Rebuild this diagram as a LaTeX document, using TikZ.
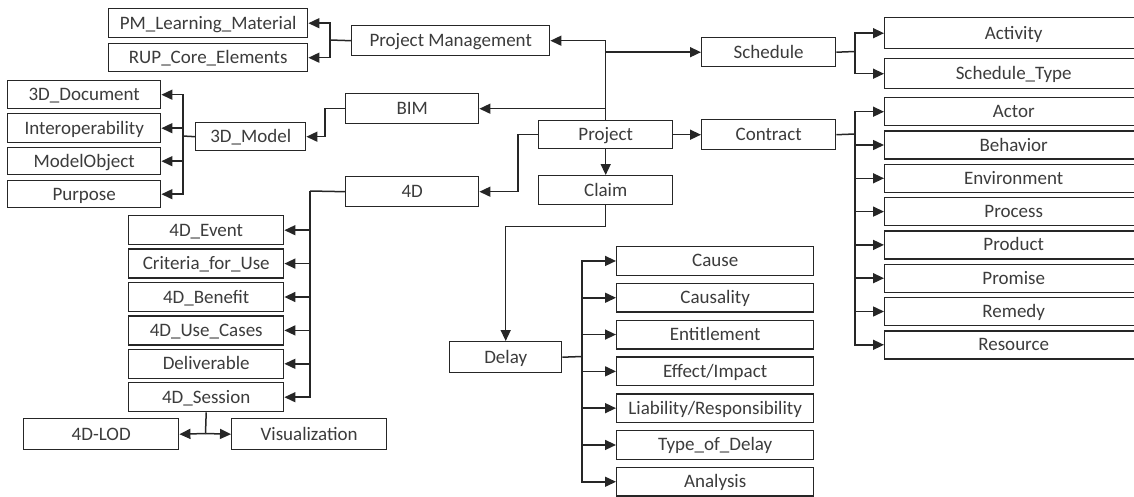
\documentclass[tikz,border=0pt]{standalone}
\usepackage{fontspec}
\setmainfont{Carlito}
\usetikzlibrary{arrows.meta}
\definecolor{linec}{HTML}{262626}
\definecolor{textc}{HTML}{3C3C3C}
\tikzset{
  box/.style={draw=linec, line width=1.4pt, fill=white, inner sep=0pt,
    anchor=north west, text=textc, text height=15pt, text depth=3pt,
    font=\fontsize{19}{19}\selectfont},
  conn/.style={draw=linec, line width=1.5pt},
  arr/.style={conn, -{Triangle[length=11pt,width=10pt]}},
}
% \cbox{name}{x1}{y1}{x2}{y2}{label}: box given by its corners
\newcommand\cbox[6]{%
  \node[box, minimum width={(#4-#2)*1pt}, minimum height={(#5-#3)*1pt}]
    (#1) at (#2,#3) {#6};}
\begin{document}
\begin{tikzpicture}[x=1pt,y=-1pt]
\useasboundingbox (0,0) rectangle (1134,496);
\clip (0,0) rectangle (1134,496);

% project management branch
\cbox{pml}{108}{8}{307}{37}{PM\_Learning\_Material}
\cbox{rup}{108}{43}{307}{71}{RUP\_Core\_Elements}
\cbox{pm}{351}{25}{549}{55}{Project Management}

% schedule branch
\cbox{sched}{701}{37}{835}{66}{Schedule}
\cbox{act}{884}{17}{1142}{48}{Activity}
\cbox{stype}{884}{58}{1142}{88}{Schedule\_Type}

% BIM / 3D model branch
\cbox{bim}{345}{93}{478}{123}{BIM}
\cbox{m3d}{195}{122}{305}{150}{3D\_Model}
\cbox{doc3d}{7}{80}{160}{108}{3D\_Document}
\cbox{interop}{7}{113}{160}{142}{Interoperability}
\cbox{mobj}{7}{147}{160}{174}{ModelObject}
\cbox{purpose}{7}{180}{160}{207}{Purpose}

% root and its direct children
\cbox{project}{538}{120}{672}{148}{Project}
\cbox{contract}{701}{119}{835}{149}{Contract}
\cbox{claim}{538}{175}{672}{204}{Claim}
\cbox{d4}{345}{176}{478}{206}{4D}

% contract parts
\foreach \n/\t [count=\i from 0] in {actor/Actor, behavior/Behavior,
    env/Environment, process/Process, product/Product, promise/Promise,
    remedy/Remedy, resource/Resource}{
  \pgfmathsetmacro\top{97+33.3*\i}
  \pgfmathsetmacro\bot{\top+28}
  \cbox{\n}{884}{\top}{1142}{\bot}{\t}
}

% 4D parts
\foreach \n/\t [count=\i from 0] in {ev4d/4D\_Event, crit/Criteria\_for\_Use,
    ben4d/4D\_Benefit, use4d/4D\_Use\_Cases, deliv/Deliverable,
    sess4d/4D\_Session}{
  \pgfmathsetmacro\top{215+33.4*\i}
  \pgfmathsetmacro\bot{\top+29}
  \cbox{\n}{128}{\top}{283}{\bot}{\t}
}
\cbox{lod}{23}{418}{178}{449}{4D-LOD}
\cbox{vis}{231}{418}{386}{449}{Visualization}

% delay branch
\cbox{delay}{449}{341}{561}{372}{Delay}
\foreach \n/\t [count=\i from 0] in {cause/Cause, causal/Causality,
    entitle/Entitlement, effect/{Effect/Impact},
    liab/{Liability/Responsibility}, tdelay/Type\_of\_Delay, analysis/Analysis}{
  \pgfmathsetmacro\top{246+36.8*\i}
  \pgfmathsetmacro\bot{\top+28.5}
  \cbox{\n}{616}{\top}{813}{\bot}{\t}
}

% connectors
\coordinate (jpm) at (330,40);
\draw[conn] (pm.west) -- (jpm);
\draw[arr] (jpm) |- (pml.east);
\draw[arr] (jpm) |- (rup.east);

\draw[arr] (project.north) |- (pm.east);
\draw[arr] (project.north) |- (sched.west);
\draw[arr] (project.north) |- (bim.east);
\draw[arr] (project.east) -- (contract.west);
\draw[arr] (project.south) -- (claim.north);
\draw[arr] (project.west) -- ++(-20,0) |- (d4.east);

\coordinate (jsc) at (855,51.5);
\draw[conn] (sched.east) -- (jsc);
\foreach \n in {act,stype} \draw[arr] (jsc) |- (\n.west);

\coordinate (jct) at (855,134);
\draw[conn] (contract.east) -- (jct);
\foreach \n in {actor,behavior,env,process,product,promise,remedy,resource}
  \draw[arr] (jct) |- (\n.west);

\draw[arr] (bim.west) -- ++(-20,0) |- (m3d.east);
\coordinate (j3d) at (183,136);
\draw[conn] (m3d.west) -- (j3d);
\foreach \n in {doc3d,interop,mobj,purpose} \draw[arr] (j3d) |- (\n.east);

\coordinate (j4d) at (310,191);
\draw[conn] (d4.west) -- (j4d);
\foreach \n in {ev4d,crit,ben4d,use4d,deliv,sess4d} \draw[arr] (j4d) |- (\n.east);

\coordinate (jss) at (205.5,433.5);
\draw[conn] (sess4d.south) -- (jss);
\draw[arr] (jss) -- (lod.east);
\draw[arr] (jss) -- (vis.west);

\draw[arr] (claim.south) -- ++(0,21) -| (delay.north);
\coordinate (jdl) at (582,356.5);
\draw[conn] (delay.east) -- (jdl);
\foreach \n in {cause,causal,entitle,effect,liab,tdelay,analysis}
  \draw[arr] (jdl) |- (\n.west);
\end{tikzpicture}
\end{document}
